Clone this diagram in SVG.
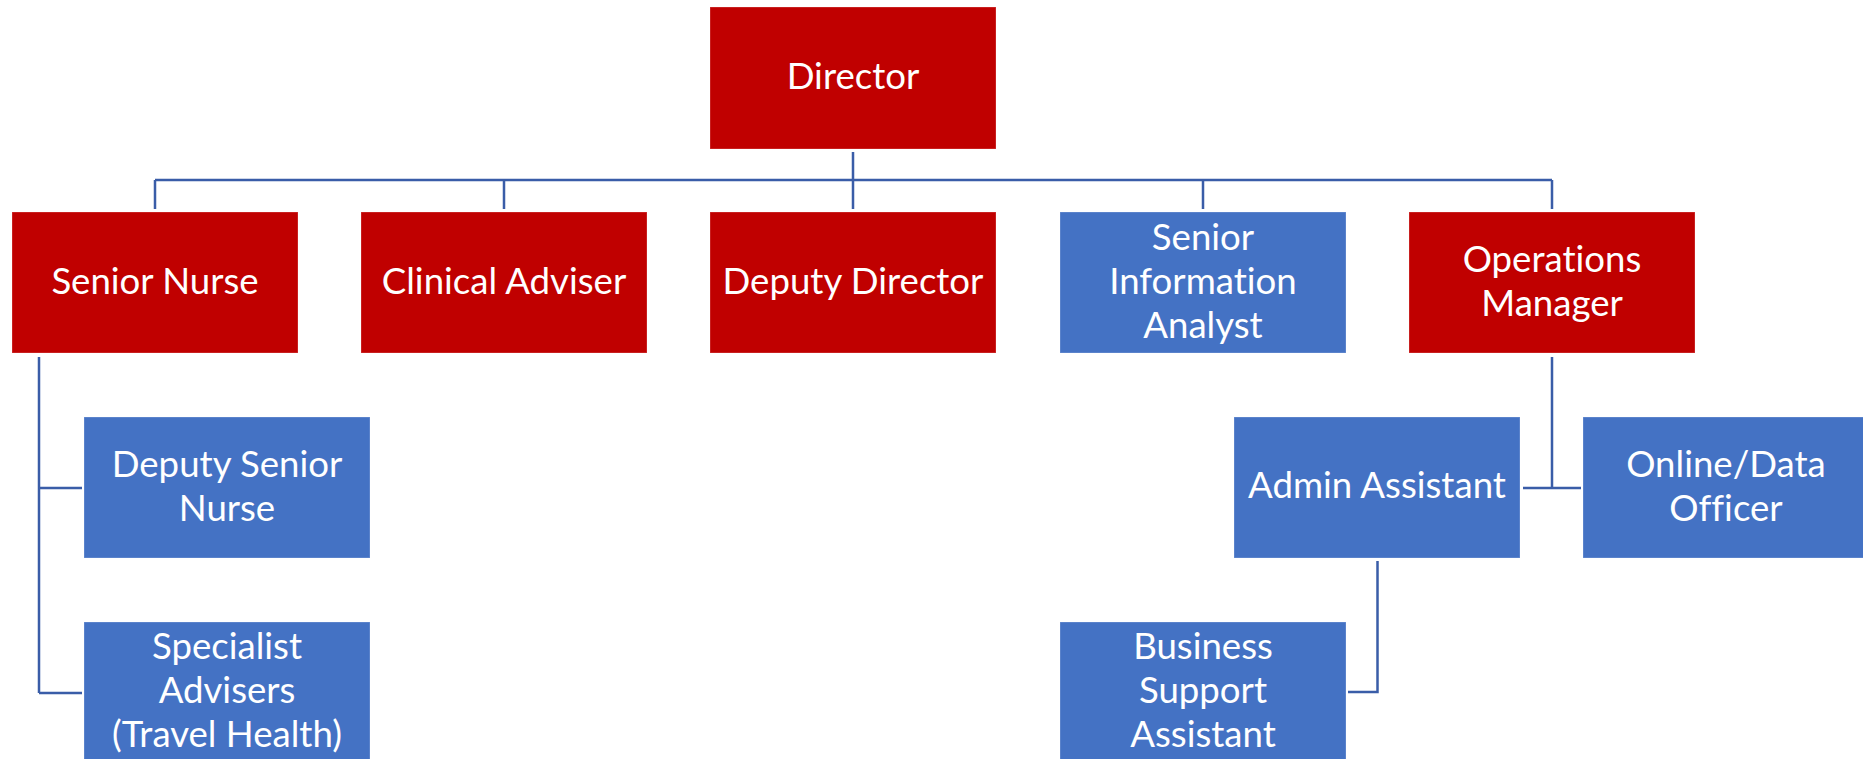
<svg xmlns="http://www.w3.org/2000/svg" width="1863" height="759" viewBox="0 0 1863 759">
<style>
.red{fill:#C00000}
.blue{fill:#4472C4}
.box{stroke:#ffffff;stroke-opacity:0.25;stroke-width:1}
text{font-family:Lato,"Liberation Sans",sans-serif;font-size:36.6px;fill:#ffffff;text-anchor:middle;font-variant-ligatures:none;font-feature-settings:"liga" 0,"dlig" 0}
.conn{fill:none;stroke:#3A5DA8;stroke-width:2.5}
</style>
<rect width="1863" height="759" fill="#ffffff"/>
<g id="connectors" class="conn">
<path d="M853 152V180M155 180H1552M155 180V209M504 180V209M853 180V209M1203 180V209M1552 180V209"/>
<path d="M39 357V693M39 488H82M39 693H82"/>
<path d="M1552 357V488M1523 488H1581"/>
<path d="M1377.5 561V692H1348"/>
</g>
<g id="director"><rect class="red box" x="710" y="7" width="286" height="142"/><text x="853" y="89">Director</text></g>
<g id="senior-nurse"><rect class="red box" x="12" y="212" width="286" height="141"/><text x="155" y="294">Senior Nurse</text></g>
<g id="clinical-adviser"><rect class="red box" x="361" y="212" width="286" height="141"/><text x="504" y="294">Clinical Adviser</text></g>
<g id="deputy-director"><rect class="red box" x="710" y="212" width="286" height="141"/><text x="853" y="294">Deputy Director</text></g>
<g id="senior-information-analyst"><rect class="blue box" x="1060" y="212" width="286" height="141"/><text x="1203" y="250">Senior</text><text x="1203" y="294">Information</text><text x="1203" y="338">Analyst</text></g>
<g id="operations-manager"><rect class="red box" x="1409" y="212" width="286" height="141"/><text x="1552" y="272">Operations</text><text x="1552" y="316">Manager</text></g>
<g id="deputy-senior-nurse"><rect class="blue box" x="84" y="417" width="286" height="141"/><text x="227" y="477">Deputy Senior</text><text x="227" y="521">Nurse</text></g>
<g id="specialist-advisers"><rect class="blue box" x="84" y="622" width="286" height="141"/><text x="227" y="659">Specialist</text><text x="227" y="703">Advisers</text><text x="227" y="747">(Travel Health)</text></g>
<g id="admin-assistant"><rect class="blue box" x="1234" y="417" width="286" height="141"/><text x="1377" y="498">Admin Assistant</text></g>
<g id="online-data-officer"><rect class="blue box" x="1583" y="417" width="286" height="141"/><text x="1726" y="477">Online/Data</text><text x="1726" y="521">Officer</text></g>
<g id="business-support-assistant"><rect class="blue box" x="1060" y="622" width="286" height="141"/><text x="1203" y="659">Business</text><text x="1203" y="703">Support</text><text x="1203" y="747">Assistant</text></g>
</svg>
